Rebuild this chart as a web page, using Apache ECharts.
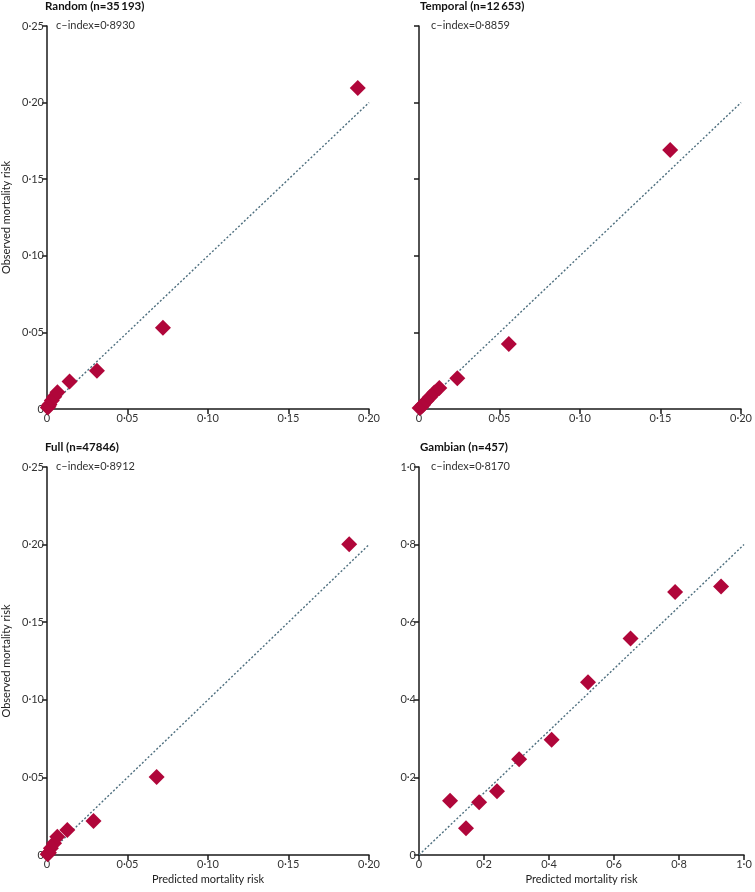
<!DOCTYPE html>
<html>
<head>
<meta charset="utf-8">
<script src="https://cdn.jsdelivr.net/npm/echarts@6/dist/echarts.min.js"></script>
<style>html,body{margin:0;padding:0;background:#fff}#c{width:755px;height:892px}</style>
</head>
<body>
<div id="c"></div>
<script>
// ---- data ----
var panelTitles = ['Random (n=35\u2009193)', 'Temporal (n=12\u2009653)', 'Full (n=47846)', 'Gambian (n=457)'];
var cIndexLabels = ['c\u2013index=0\u00b78930', 'c\u2013index=0\u00b78859', 'c\u2013index=0\u00b78912', 'c\u2013index=0\u00b78170'];

var randomPred = [0.0005, 0.001, 0.0015, 0.003, 0.0045, 0.0065, 0.014, 0.031, 0.072, 0.193];
var randomObs  = [0.001, 0.002, 0.003, 0.0055, 0.008, 0.011, 0.018, 0.025, 0.053, 0.2095];

var temporalPred = [0.0004, 0.0015, 0.0026, 0.0047, 0.0067, 0.0095, 0.0126, 0.0238, 0.0558, 0.156];
var temporalObs  = [0.0007, 0.0015, 0.0028, 0.0054, 0.0076, 0.0108, 0.0137, 0.0201, 0.0424, 0.169];

var fullPred = [0.0004, 0.0012, 0.0024, 0.0044, 0.0064, 0.0126, 0.0289, 0.0681, 0.1877];
var fullObs  = [0.0005, 0.0015, 0.0043, 0.0075, 0.0118, 0.0161, 0.0219, 0.0503, 0.2003];

var gambianPred = [0.0956, 0.1447, 0.185, 0.240, 0.308, 0.408, 0.520, 0.651, 0.788, 0.9295];
var gambianObs  = [0.140, 0.069, 0.136, 0.164, 0.2465, 0.297, 0.445, 0.558, 0.678, 0.692];

// reference lines (start and end points)
var refLineSmallX = [0, 0.2];
var refLineSmallY = [0, 0.2];
var refLineGambianX = [0, 1.0];
var refLineGambianY = [0, 0.8];

// axis ranges
var smallAxisMax = [0.20, 0.25];  // x max, y max
var smallInterval = 0.05;
var gambianAxisMax = [1.0, 1.0];
var gambianInterval = 0.2;

var xAxisName = 'Predicted mortality risk';
var yAxisName = 'Observed mortality risk';

// ---- build ----
function zip(a, b) { return a.map(function (v, i) { return [v, b[i]]; }); }
function fmt(dec) {
  return function (v) {
    if (Math.abs(v) < 1e-9) return '0';
    return v.toFixed(dec).replace('.', '\u00b7');
  };
}
var FONT = 'Lato';
var grids = [
  {left: 44, top: 26, width: 325, height: 383},
  {left: 419, top: 26, width: 325, height: 383},
  {left: 44, top: 467, width: 325, height: 388},
  {left: 419, top: 467, width: 325, height: 388}
];
var sets = [
  {pred: randomPred, obs: randomObs, lx: refLineSmallX, ly: refLineSmallY, max: smallAxisMax, iv: smallInterval, dec: 2, ylab: true, xname: false, yname: true},
  {pred: temporalPred, obs: temporalObs, lx: refLineSmallX, ly: refLineSmallY, max: smallAxisMax, iv: smallInterval, dec: 2, ylab: false, xname: false, yname: false},
  {pred: fullPred, obs: fullObs, lx: refLineSmallX, ly: refLineSmallY, max: smallAxisMax, iv: smallInterval, dec: 2, ylab: true, xname: true, yname: true},
  {pred: gambianPred, obs: gambianObs, lx: refLineGambianX, ly: refLineGambianY, max: gambianAxisMax, iv: gambianInterval, dec: 1, ylab: true, xname: true, yname: false}
];

var axisLineStyle = {color: '#1a1a1a', width: 1.5};
var xAxes = [], yAxes = [], series = [], titles = [];
sets.forEach(function (s, i) {
  xAxes.push({
    type: 'value', gridIndex: i, min: 0, max: s.max[0], interval: s.iv,
    name: s.xname ? xAxisName : '', nameLocation: 'middle', nameGap: 19,
    nameTextStyle: {fontFamily: FONT, fontSize: 11, color: '#222'},
    axisLine: {show: true, onZero: false, lineStyle: axisLineStyle},
    axisTick: {show: true, length: 5, inside: false, lineStyle: axisLineStyle},
    axisLabel: {show: true, formatter: fmt(s.dec), fontFamily: FONT, fontSize: 11, color: '#333', margin: 4},
    splitLine: {show: false}
  });
  yAxes.push({
    type: 'value', gridIndex: i, min: 0, max: s.max[1], interval: s.iv,
    name: s.yname ? yAxisName : '', nameLocation: 'middle', nameGap: 35, nameRotate: 90,
    nameTextStyle: {fontFamily: FONT, fontSize: 11, color: '#222'},
    axisLine: {show: true, onZero: false, lineStyle: axisLineStyle},
    axisTick: {show: true, length: 5, inside: false, lineStyle: axisLineStyle},
    axisLabel: {show: s.ylab, formatter: fmt(s.dec), fontFamily: FONT, fontSize: 11, color: '#333', margin: 3},
    splitLine: {show: false}
  });
  series.push({
    type: 'line', xAxisIndex: i, yAxisIndex: i, data: zip(s.lx, s.ly),
    symbol: 'none', silent: true, z: 1,
    lineStyle: {color: '#4d6e7e', width: 1.4, type: [2, 2]}
  });
  series.push({
    type: 'scatter', xAxisIndex: i, yAxisIndex: i, data: zip(s.pred, s.obs),
    symbol: 'diamond', symbolSize: 16, clip: false, z: 3,
    itemStyle: {color: '#b0063a', opacity: 1}
  });
  titles.push({
    text: panelTitles[i], left: grids[i].left + 1, top: grids[i].top - 26, padding: 0,
    textStyle: {fontFamily: FONT, fontSize: 11.5, fontWeight: 'bold', color: '#111'}
  });
  titles.push({
    text: cIndexLabels[i], left: grids[i].left + 12, top: grids[i].top - 6, padding: 0,
    textStyle: {fontFamily: FONT, fontSize: 11, fontWeight: 'normal', color: '#333'}
  });
});

var chart = echarts.init(document.getElementById('c'), null, {renderer: 'canvas'});
chart.setOption({
  animation: false,
  backgroundColor: '#fff',
  title: titles,
  grid: grids,
  xAxis: xAxes,
  yAxis: yAxes,
  series: series
});
</script>
</body>
</html>
